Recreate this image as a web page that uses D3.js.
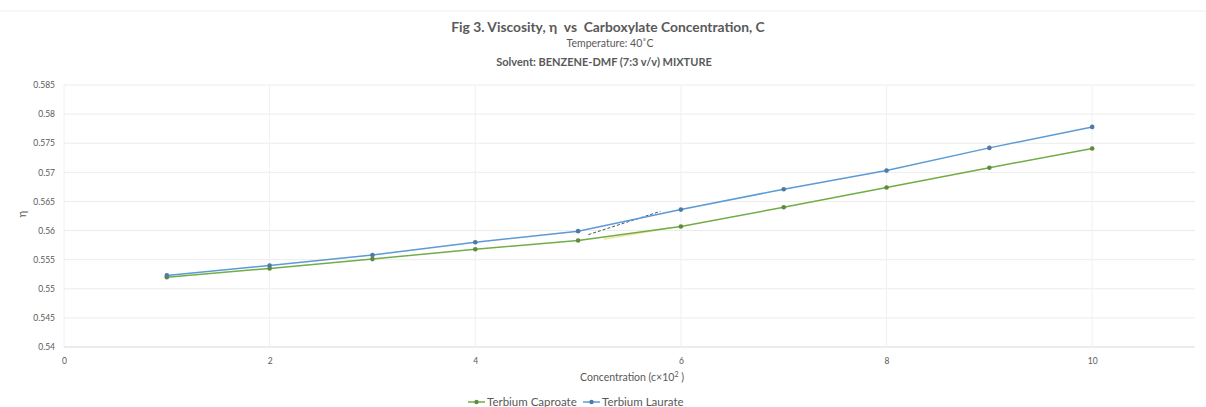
<!DOCTYPE html>
<html>
<head>
<meta charset="utf-8">
<script src="https://cdn.jsdelivr.net/npm/d3@7"></script>
<style>
  body { margin: 0; background: #fff; }
  text { font-family: Lato, "Open Sans", sans-serif; fill: #595959; }
</style>
</head>
<body>
<div id="wrapper"></div>
<script>
// data
const concentration = [1, 2, 3, 4, 5, 6, 7, 8, 9, 10]
const caproate = [0.5520, 0.5535, 0.5551, 0.5568, 0.5583, 0.5607, 0.5640, 0.5674, 0.5708, 0.5741]
const laurate  = [0.5523, 0.5540, 0.5558, 0.5580, 0.5599, 0.5636, 0.5671, 0.5703, 0.5742, 0.5778]
const xTicks = [0, 2, 4, 6, 8, 10]
const yTicks = [0.54, 0.545, 0.55, 0.555, 0.56, 0.565, 0.57, 0.575, 0.58, 0.585]
const yTickLabels = ["0.54", "0.545", "0.55", "0.555", "0.56", "0.565", "0.57", "0.575", "0.58", "0.585"]
// the small dashed / faint trend marks near c = 5..6
const dashTrend = [[5.1, 0.5593], [5.8, 0.5633]]
const faintTrend = [[5.25, 0.5585], [5.9, 0.5605]]

const series = [
    {name: "Terbium Caproate", values: caproate, line: "#70ad47", dot: "#5e8c3e"},
    {name: "Terbium Laurate", values: laurate, line: "#5b9bd5", dot: "#4f7aa3"},
]

const dims = {
    width: 1206,
    height: 407,
    margin: {top: 85, right: 11, bottom: 60, left: 64}
}
dims.boundedWidth = dims.width - dims.margin.left - dims.margin.right
dims.boundedHeight = dims.height - dims.margin.top - dims.margin.bottom

const svg = d3.select("#wrapper")
    .append("svg")
    .attr("width", dims.width)
    .attr("height", dims.height)

// faint frame line at the top
svg.append("line")
    .attr("x1", 0).attr("x2", dims.width)
    .attr("y1", 11).attr("y2", 11)
    .attr("stroke", "#f0f0f0")

const bounds = svg.append("g")
    .attr("transform", `translate(${dims.margin.left},${dims.margin.top})`)

const xScale = d3.scaleLinear()
    .domain([0, 11])
    .range([0, dims.boundedWidth])

const yScale = d3.scaleLinear()
    .domain([0.54, 0.585])
    .range([dims.boundedHeight, 0])

// gridlines
bounds.append("g")
    .selectAll("line")
    .data(yTicks)
    .join("line")
    .attr("x1", 0)
    .attr("x2", dims.boundedWidth)
    .attr("y1", d => yScale(d))
    .attr("y2", d => yScale(d))
    .attr("stroke", d => d === 0.54 ? "#d9d9d9" : "#ececec")
    .attr("stroke-width", 1)

bounds.append("g")
    .selectAll("line")
    .data(xTicks)
    .join("line")
    .attr("x1", d => xScale(d))
    .attr("x2", d => xScale(d))
    .attr("y1", 0)
    .attr("y2", dims.boundedHeight)
    .attr("stroke", "#f0f0f0")
    .attr("stroke-width", 1)

// axes
const xAxis = bounds.append("g")
    .attr("transform", `translate(0,${dims.boundedHeight})`)
    .call(d3.axisBottom(xScale).tickValues(xTicks).tickSize(0).tickPadding(11))
xAxis.select(".domain").remove()
xAxis.selectAll("text").style("font-size", "8.5px").attr("fill", "#595959")

const yAxis = bounds.append("g")
    .call(d3.axisLeft(yScale).tickValues(yTicks).tickSize(0).tickPadding(9)
        .tickFormat((d, i) => yTickLabels[i]))
yAxis.select(".domain").remove()
yAxis.selectAll("text").style("font-size", "8.5px").attr("fill", "#595959")

// trend marks
const trendLine = d3.line()
    .x(d => xScale(d[0]))
    .y(d => yScale(d[1]))

bounds.append("path")
    .attr("d", trendLine(faintTrend))
    .attr("fill", "none")
    .attr("stroke", "#f2e08a")
    .attr("stroke-width", 1.5)
    .attr("opacity", 0.8)

bounds.append("path")
    .attr("d", trendLine(dashTrend))
    .attr("fill", "none")
    .attr("stroke", "#44546a")
    .attr("stroke-width", 1)
    .attr("stroke-dasharray", "3,2")

// series
const lineGenerator = d3.line()
    .x((d, i) => xScale(concentration[i]))
    .y(d => yScale(d))

series.forEach(s => {
    bounds.append("path")
        .attr("d", lineGenerator(s.values))
        .attr("fill", "none")
        .attr("stroke", s.line)
        .attr("stroke-width", 1.5)

    bounds.append("g")
        .selectAll("circle")
        .data(s.values)
        .join("circle")
        .attr("cx", (d, i) => xScale(concentration[i]))
        .attr("cy", d => yScale(d))
        .attr("r", 2.3)
        .attr("fill", s.dot)
})

// titles
svg.append("text")
    .attr("x", 608)
    .attr("y", 32)
    .attr("text-anchor", "middle")
    .style("font-size", "13.8px")
    .style("font-weight", "bold")
    .style("white-space", "pre")
    .text("Fig 3. Viscosity, η  vs  Carboxylate Concentration, C")

svg.append("text")
    .attr("x", 610)
    .attr("y", 47)
    .attr("text-anchor", "middle")
    .style("font-size", "10.5px")
    .text("Temperature: 40˚C")

svg.append("text")
    .attr("x", 604)
    .attr("y", 66)
    .attr("text-anchor", "middle")
    .style("font-size", "11px")
    .style("font-weight", "bold")
    .text("Solvent: BENZENE-DMF (7:3 v/v) MIXTURE")

svg.append("text")
    .attr("transform", "translate(26,214) rotate(-90)")
    .attr("text-anchor", "middle")
    .style("font-size", "11px")
    .text("η")

svg.append("text")
    .attr("x", 632)
    .attr("y", 381)
    .attr("text-anchor", "middle")
    .style("font-size", "10.5px")
    .html("Concentration (c×10<tspan dy='-4' font-size='7px'>2</tspan><tspan dy='4'> )</tspan>")

// legend
const legend = svg.append("g")
    .attr("transform", "translate(468,406)")

series.forEach((s, i) => {
    const g = legend.append("g").attr("transform", `translate(${i * 115},0)`)
    g.append("line")
        .attr("x1", 0).attr("x2", 17)
        .attr("y1", -4).attr("y2", -4)
        .attr("stroke", s.line)
        .attr("stroke-width", 1.5)
    g.append("circle")
        .attr("cx", 8.5).attr("cy", -4).attr("r", 2.2)
        .attr("fill", s.dot)
    g.append("text")
        .attr("x", 19)
        .attr("y", 0)
        .style("font-size", "11.5px")
        .text(s.name)
})
</script>
</body>
</html>
